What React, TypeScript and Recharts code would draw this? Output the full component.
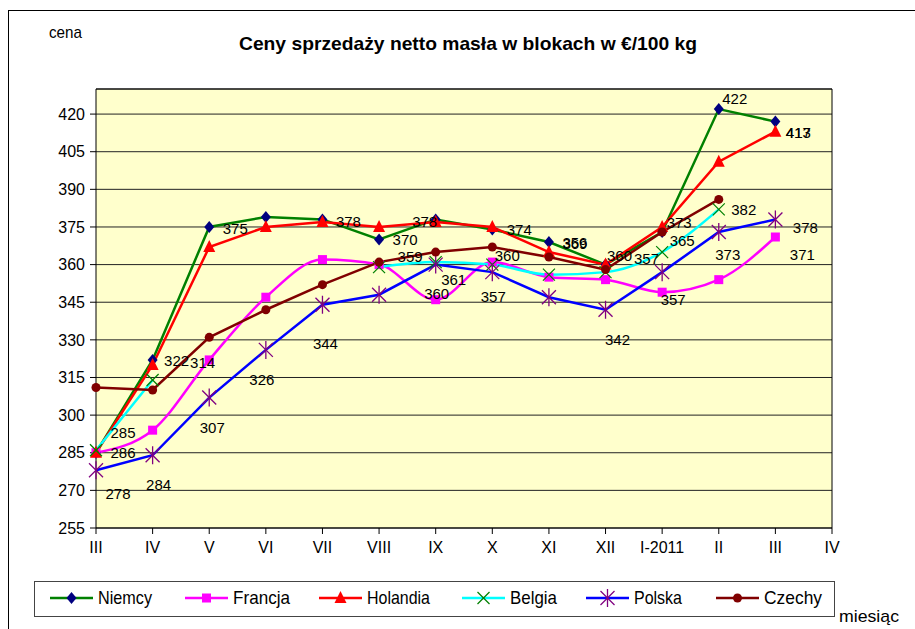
import React from 'react';
import { LineChart, Line, XAxis, YAxis, CartesianGrid, ReferenceLine } from 'recharts';

// ---------- data ----------
const months = ['III', 'IV', 'V', 'VI', 'VII', 'VIII', 'IX', 'X', 'XI', 'XII', 'I-2011', 'II', 'III', 'IV'];
const yTicks = [255, 270, 285, 300, 315, 330, 345, 360, 375, 390, 405, 420];

const niemcy = [285, 322, 375, 379, 378, 370, 378, 374, 369, 360, 373, 422, 417, null];
const francja = [285, 294, 322, 347, 362, 360, 346, 361, 355, 354, 349, 354, 371, null];
const holandia = [285, 320, 367, 375, 377, 375, 377, 375, 365, 360, 375, 401, 413, null];
const belgia = [286, 314, null, null, null, 359, 361, 360, 356, 357, 365, 382, null, null];
const polska = [278, 284, 307, 326, 344, 348, 360, 357, 347, 342, 357, 373, 378, null];
const czechy = [311, 310, 331, 342, 352, 361, 365, 367, 363, 358, 373, 386, null, null];

const title = 'Ceny sprzedaży netto masła w blokach w €/100 kg';
const yTitle = 'cena';
const xTitle = 'miesiąc';

// ---------- label placement (style) ----------
type Off = [number, number] | null;
const offNiemcy: Off[] = [[27, -20], [24, 1], [26, 2], null, [26, 2], [26, 0], [-11, 2], [27, 0], [26, 1], [14, -9], [17, -9], [16, -11], [23, 11], null];
const offFrancja: Off[] = [null, null, null, null, null, null, null, null, null, null, null, null, [27, 17], null];
const offHolandia: Off[] = [null, null, null, null, null, null, null, null, null, null, null, null, [23, 1], null];
const offBelgia: Off[] = [[27, 2], [50, -17], null, null, null, [31, -11], [18, 17], [15, -9], [26, -32], [41, -14], [20, -12], [25, 0], null, null];
const offPolska: Off[] = [[22, 23], [6, 29], [3, 30], [-4, 30], [3, 39], null, [1, 29], [1, 24], null, [12, 30], [11, 27], [9, 23], [30, 8], null];
const offCzechy: Off[] = months.map(() => null);

const FONT = "'Liberation Sans', Arial, sans-serif";

// ---------- markers ----------
const diamond = (cx: number, cy: number) => (
  <polygon points={`${cx},${cy - 6} ${cx + 5},${cy} ${cx},${cy + 6} ${cx - 5},${cy}`} fill="#000080" />
);
const square = (cx: number, cy: number) => (
  <rect x={cx - 4.5} y={cy - 4.5} width={9} height={9} fill="#FF00FF" />
);
const triangle = (cx: number, cy: number) => (
  <polygon points={`${cx},${cy - 7} ${cx + 6},${cy + 5} ${cx - 6},${cy + 5}`} fill="#FF0000" />
);
const cross = (cx: number, cy: number) => (
  <g stroke="#008000" strokeWidth={1.2}>
    <line x1={cx - 6} y1={cy - 6} x2={cx + 6} y2={cy + 6} />
    <line x1={cx - 6} y1={cy + 6} x2={cx + 6} y2={cy - 6} />
  </g>
);
const star = (cx: number, cy: number) => (
  <g stroke="#800080" strokeWidth={1.3}>
    <line x1={cx - 7} y1={cy - 7} x2={cx + 7} y2={cy + 7} />
    <line x1={cx - 7} y1={cy + 7} x2={cx + 7} y2={cy - 7} />
    <line x1={cx} y1={cy - 9} x2={cx} y2={cy + 9} />
  </g>
);
const circle = (cx: number, cy: number) => <circle cx={cx} cy={cy} r={4.5} fill="#800000" />;

type Series = {
  name: string;
  data: (number | null)[];
  color: string;
  curve: 'linear' | 'monotone';
  marker: (cx: number, cy: number) => React.ReactElement;
  offsets: Off[];
};

const series: Series[] = [
  { name: 'Niemcy', data: niemcy, color: '#008000', curve: 'linear', marker: diamond, offsets: offNiemcy },
  { name: 'Francja', data: francja, color: '#FF00FF', curve: 'monotone', marker: square, offsets: offFrancja },
  { name: 'Holandia', data: holandia, color: '#FF0000', curve: 'linear', marker: triangle, offsets: offHolandia },
  { name: 'Belgia', data: belgia, color: '#00FFFF', curve: 'monotone', marker: cross, offsets: offBelgia },
  { name: 'Polska', data: polska, color: '#0000FF', curve: 'linear', marker: star, offsets: offPolska },
  { name: 'Czechy', data: czechy, color: '#800000', curve: 'linear', marker: circle, offsets: offCzechy },
];

const rows = months.map((m, i) => {
  const r: Record<string, number | string | null> = { idx: i, month: m };
  series.forEach((s) => {
    r[s.name] = s.data[i];
  });
  return r;
});

const makeDot = (s: Series) => (p: any) => {
  const k = `${s.name}-d-${p.index}`;
  if (p.cx == null || p.cy == null || p.value == null || Number.isNaN(p.cy)) return <g key={k} />;
  return <g key={k}>{s.marker(p.cx, p.cy)}</g>;
};

const makeLabelDot = (s: Series) => (p: any) => {
  const k = `${s.name}-l-${p.index}`;
  const off = s.offsets[p.index];
  const v = s.data[p.index];
  if (!off || v == null || p.cx == null || p.cy == null || Number.isNaN(p.cy)) return <g key={k} />;
  return (
    <text
      key={k}
      x={p.cx + off[0]}
      y={p.cy + off[1]}
      textAnchor="middle"
      dominantBaseline="central"
      fontFamily={FONT}
      fontSize={15}
      fill="#000"
    >
      {v}
    </text>
  );
};

const legendX = [50, 185, 319, 462, 586, 716];
const legendTextW = [54, 57, 63, 47, 48, 58];

export default function App() {
  return (
    <div style={{ position: 'absolute', left: 0, top: 0, width: 915, height: 629, overflow: 'hidden', background: '#fff' }}>
      <LineChart width={915} height={629} data={rows} margin={{ top: 89, right: 83, bottom: 71, left: 56 }}>
        <CartesianGrid horizontal vertical={false} stroke="#222" strokeWidth={1} fill="#FFFFCC" fillOpacity={1} />
        <XAxis
          dataKey="idx"
          type="category"
          interval={0}
          height={30}
          tickFormatter={(v: number) => months[v]}
          stroke="#000"
          tickSize={6}
          tickMargin={8}
          tick={{ fontFamily: FONT, fontSize: 16, fill: '#000' }}
        />
        <YAxis
          domain={[255, 430]}
          ticks={yTicks}
          width={40}
          stroke="#000"
          tickSize={6}
          tickMargin={5}
          allowDataOverflow
          tick={{ fontFamily: FONT, fontSize: 16, fill: '#000' }}
        />
        <ReferenceLine y={430} stroke="#000" strokeWidth={1} ifOverflow="extendDomain" />
        <ReferenceLine x={13} stroke="#000" strokeWidth={1} />
        {series.map((s) => (
          <Line
            key={s.name}
            dataKey={s.name}
            type={s.curve}
            stroke={s.color}
            strokeWidth={2.5}
            dot={makeDot(s)}
            activeDot={false}
            isAnimationActive={false}
            connectNulls={false}
          />
        ))}
        {series.map((s) => (
          <Line
            key={`${s.name}-labels`}
            dataKey={s.name}
            stroke="none"
            dot={makeLabelDot(s)}
            activeDot={false}
            isAnimationActive={false}
            legendType="none"
          />
        ))}
      </LineChart>
      <svg width={915} height={629} style={{ position: 'absolute', left: 0, top: 0, pointerEvents: 'none' }}>
        <rect x={8.5} y={10.5} width={1000} height={1000} fill="none" stroke="#000" strokeWidth={1} />
        <text x={49} y={38} fontFamily={FONT} fontSize={17} textLength={33} lengthAdjust="spacingAndGlyphs">
          {yTitle}
        </text>
        <text
          x={468}
          y={50}
          textAnchor="middle"
          fontFamily={FONT}
          fontWeight="bold"
          fontSize={19}
          textLength={458}
          lengthAdjust="spacingAndGlyphs"
        >
          {title}
        </text>
        <text x={839} y={622} fontFamily={FONT} fontSize={17} textLength={60} lengthAdjust="spacingAndGlyphs">
          {xTitle}
        </text>
        <rect x={34.5} y={581.5} width={800} height={35} fill="#fff" stroke="#444" strokeWidth={1} />
        {series.map((s, i) => (
          <g key={s.name}>
            <line x1={legendX[i]} y1={598} x2={legendX[i] + 43} y2={598} stroke={s.color} strokeWidth={2.5} />
            {s.marker(legendX[i] + 21.5, 598)}
            <text
              x={legendX[i] + 48}
              y={604}
              fontFamily={FONT}
              fontSize={19}
              textLength={legendTextW[i]}
              lengthAdjust="spacingAndGlyphs"
            >
              {s.name}
            </text>
          </g>
        ))}
      </svg>
    </div>
  );
}
